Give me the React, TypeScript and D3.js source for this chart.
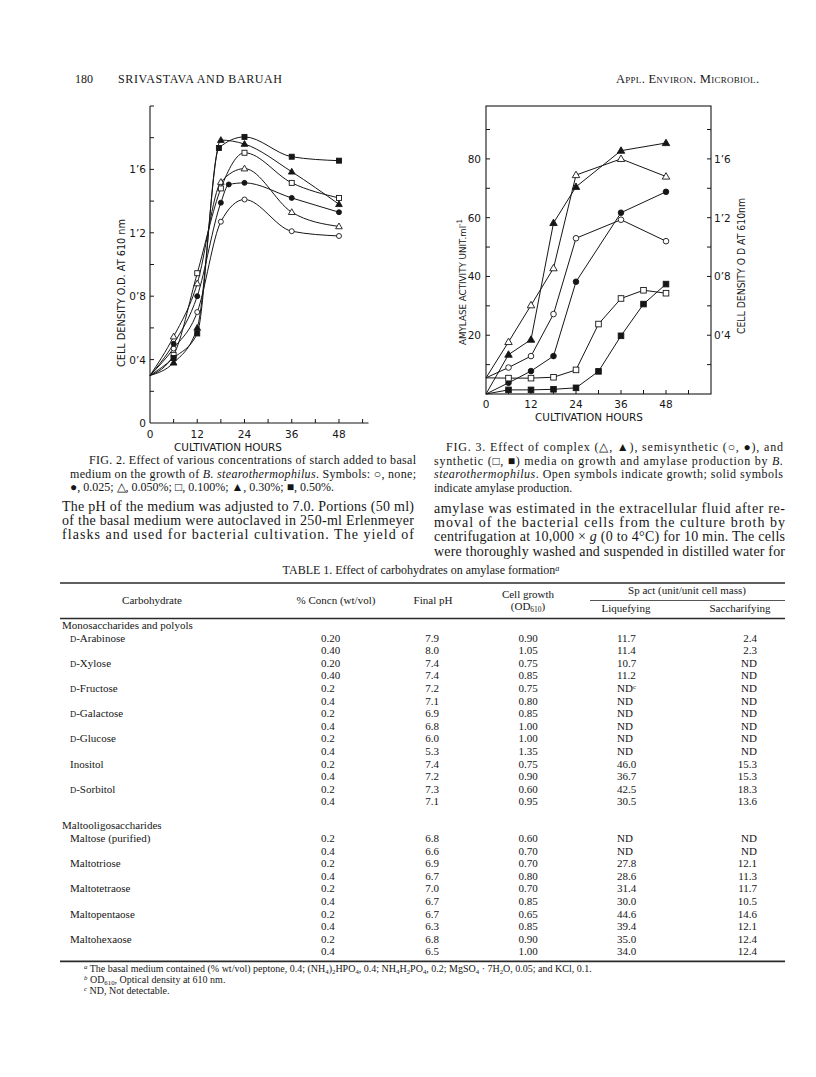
import React from "react";
import * as d3 from "d3";

const INK = "#161616";
const SERIF = "'Liberation Serif', 'Times New Roman', serif";
const LETTER = "'DejaVu Sans', 'Liberation Sans', sans-serif";

// Fig. 2 - cell density (OD 610) vs cultivation hours, by starch added
const f2Hours = [0, 6, 12, 18, 24, 36, 48];
const f2None = [0.3, 0.47, 0.7, 1.27, 1.41, 1.21, 1.18];
const f2S025Hours = [0, 6, 12, 18, 20, 24, 36, 48];
const f2S025 = [0.3, 0.5, 0.8, 1.39, 1.505, 1.515, 1.42, 1.33];
const f2S050 = [0.3, 0.545, 0.88, 1.52, 1.605, 1.33, 1.24];
const f2S100 = [0.3, 0.43, 0.945, 1.48, 1.705, 1.515, 1.42];
const f2S30 = [0.3, 0.38, 0.6, 1.785, 1.76, 1.585, 1.38];
const f2S50Hours = [0, 6, 12, 17.5, 24, 36, 48];
const f2S50 = [0.3, 0.41, 0.565, 1.735, 1.805, 1.68, 1.655];
const f2XTicks = [0, 12, 24, 36, 48];
const f2YTicks = [0, 0.4, 0.8, 1.2, 1.6];
const f2YLabels = ["0", "0\u20194", "0\u20198", "1\u20192", "1\u20196"];

// Fig. 3 - amylase activity (U/ml) and growth (same grid, OD = units/50)
const f3Hours = [0, 6, 12, 18, 24, 36, 48];
const f3ComplexGrowth = [5.5, 17.7, 30.2, 42.8, 74.5, 80, 74];
const f3ComplexAmylase = [0, 13.4, 18.5, 58.2, 70.5, 82.8, 85.4];
const f3SemiGrowth = [5.5, 9, 12.9, 27.2, 53, 59.3, 52];
const f3SemiAmylase = [0, 3.8, 7.8, 12.9, 38.2, 61.7, 68.8];
const f3SynHours = [0, 6, 12, 18, 24, 30, 36, 42, 48];
const f3SynGrowth = [5.5, 5.4, 5.4, 5.7, 8.2, 23.8, 32.5, 35.3, 34.3];
const f3SynAmylase = [0, 1.4, 1.4, 1.6, 2.1, 7.7, 19.8, 30.6, 37.4];
const f3XTicks = [0, 12, 24, 36, 48];
const f3LeftTicks = [20, 40, 60, 80];
const f3RightTicks = [0.4, 0.8, 1.2, 1.6];
const f3RightLabels = ["0\u20194", "0\u20198", "1\u20192", "1\u20196"];

// Table 1
const monoNames = ["Arabinose", "Xylose", "Fructose", "Galactose", "Glucose", "Inositol", "Sorbitol"];
const monoD = [true, true, true, true, true, false, true];
const maltoNames = ["Maltose (purified)", "Maltotriose", "Maltotetraose", "Maltopentaose", "Maltohexaose"];
const monoConc = ["0.20", "0.40", "0.20", "0.40", "0.2", "0.4", "0.2", "0.4", "0.2", "0.4", "0.2", "0.4", "0.2", "0.4"];
const monoPH = ["7.9", "8.0", "7.4", "7.4", "7.2", "7.1", "6.9", "6.8", "6.0", "5.3", "7.4", "7.2", "7.3", "7.1"];
const monoGrowth = ["0.90", "1.05", "0.75", "0.85", "0.75", "0.80", "0.85", "1.00", "1.00", "1.35", "0.75", "0.90", "0.60", "0.95"];
const monoLiq = ["11.7", "11.4", "10.7", "11.2", "ND", "ND", "ND", "ND", "ND", "ND", "46.0", "36.7", "42.5", "30.5"];
const monoSacch = ["2.4", "2.3", "ND", "ND", "ND", "ND", "ND", "ND", "ND", "ND", "15.3", "15.3", "18.3", "13.6"];
const maltoConc = ["0.2", "0.4", "0.2", "0.4", "0.2", "0.4", "0.2", "0.4", "0.2", "0.4"];
const maltoPH = ["6.8", "6.6", "6.9", "6.7", "7.0", "6.7", "6.7", "6.3", "6.8", "6.5"];
const maltoGrowth = ["0.60", "0.70", "0.70", "0.80", "0.70", "0.85", "0.65", "0.85", "0.90", "1.00"];
const maltoLiq = ["ND", "ND", "27.8", "28.6", "31.4", "30.0", "44.6", "39.4", "35.0", "34.0"];
const maltoSacch = ["ND", "ND", "12.1", "11.3", "11.7", "10.5", "14.6", "12.1", "12.4", "12.4"];

type Seg = string | { t: string; it?: boolean; sub?: boolean; sup?: boolean; sc?: boolean };

const Rich = ({ x, y, segs, size, width, anchor = "start", family = SERIF }: any) => (
  <text
    x={x}
    y={y}
    fontFamily={family}
    fontSize={size}
    fill={INK}
    textAnchor={anchor}
    textLength={width}
    lengthAdjust={width ? "spacing" : undefined}
  >
    {segs.map((s: Seg, i: number) =>
      typeof s === "string" ? (
        <tspan key={i}>{s}</tspan>
      ) : (
        <tspan
          key={i}
          fontStyle={s.it ? "italic" : undefined}
          fontSize={s.sub || s.sup ? size * 0.68 : s.sc ? size * 0.78 : undefined}
          baselineShift={s.sub ? "-22%" : s.sup ? "40%" : undefined}
        >
          {s.t}
        </tspan>
      )
    )}
  </text>
);

const Marker = ({ shape, filled, cx, cy, r }: any) => {
  const fill = filled ? INK : "#fff";
  if (shape === "circle") return <circle cx={cx} cy={cy} r={r} fill={fill} stroke={INK} strokeWidth={0.9} />;
  if (shape === "square")
    return <rect x={cx - r} y={cy - r} width={r * 2} height={r * 2} fill={fill} stroke={INK} strokeWidth={0.9} />;
  const h = r * 2.3;
  const p = `M${cx},${cy - h * 0.6}L${cx + h * 0.58},${cy + h * 0.4}L${cx - h * 0.58},${cy + h * 0.4}Z`;
  return <path d={p} fill={fill} stroke={INK} strokeWidth={0.9} />;
};

const Fig2 = () => {
  const x = d3.scaleLinear().domain([0, 55.5]).range([150, 368.5]);
  const y = d3.scaleLinear().domain([0, 2.0]).range([423, 106]);
  const series = [
    { h: f2Hours, v: f2None, shape: "circle", filled: false },
    { h: f2S025Hours, v: f2S025, shape: "circle", filled: true },
    { h: f2Hours, v: f2S050, shape: "triangle", filled: false },
    { h: f2Hours, v: f2S100, shape: "square", filled: false },
    { h: f2Hours, v: f2S30, shape: "triangle", filled: true },
    { h: f2S50Hours, v: f2S50, shape: "square", filled: true },
  ];
  const line = d3
    .line<number[]>()
    .x((d) => x(d[0]))
    .y((d) => y(d[1]))
    .curve(d3.curveMonotoneX);
  return (
    <g>
      <line x1={x(0)} x2={x(0)} y1={y(0)} y2={y(2.0)} stroke={INK} strokeWidth={1.1} />
      <line x1={x(0)} x2={x(55.5)} y1={y(0)} y2={y(0)} stroke={INK} strokeWidth={1.1} />
      {d3.range(6, 55, 6).map((t) => (
        <line key={t} x1={x(t)} x2={x(t)} y1={y(0)} y2={y(0) - 4} stroke={INK} strokeWidth={1} />
      ))}
      {d3.range(1, 11).map((i) => (
        <line key={i} x1={x(0)} x2={x(0) + 4} y1={y(i * 0.2)} y2={y(i * 0.2)} stroke={INK} strokeWidth={1} />
      ))}
      {f2XTicks.map((t) => (
        <text key={t} x={x(t)} y={438} textAnchor="middle" fontFamily={LETTER} fontSize={10.5} fill={INK}>
          {t}
        </text>
      ))}
      {f2YTicks.map((t, i) => (
        <text key={t} x={146} y={y(t) + 4} textAnchor="end" fontFamily={LETTER} fontSize={10.5} fill={INK}>
          {f2YLabels[i]}
        </text>
      ))}
      <text x={228} y={451} textAnchor="middle" fontFamily={LETTER} fontSize={10} fill={INK} textLength={108} lengthAdjust="spacingAndGlyphs">
        CULTIVATION HOURS
      </text>
      <text
        transform="translate(125,293) rotate(-90)"
        textAnchor="middle"
        fontFamily={LETTER}
        fontSize={10}
        fill={INK}
        textLength={148}
        lengthAdjust="spacingAndGlyphs"
      >
        CELL DENSITY  O.D. AT 610 nm
      </text>
      {series.map((s, k) => {
        const pts = s.h.map((h, i) => [h, s.v[i]]);
        return (
          <g key={k}>
            <path d={line(pts) || ""} fill="none" stroke={INK} strokeWidth={1} />
            {pts.slice(1).map((p, i) => (
              <Marker key={i} shape={s.shape} filled={s.filled} cx={x(p[0])} cy={y(p[1])} r={2.5} />
            ))}
          </g>
        );
      })}
    </g>
  );
};

const Fig3 = () => {
  const x = d3.scaleLinear().domain([0, 60]).range([486, 711]);
  const y = d3.scaleLinear().domain([0, 98]).range([394, 106]);
  const yr = d3.scaleLinear().domain([0, 1.96]).range([394, 106]);
  const series = [
    { h: f3Hours, v: f3ComplexGrowth, shape: "triangle", filled: false },
    { h: f3Hours, v: f3ComplexAmylase, shape: "triangle", filled: true },
    { h: f3Hours, v: f3SemiGrowth, shape: "circle", filled: false },
    { h: f3Hours, v: f3SemiAmylase, shape: "circle", filled: true },
    { h: f3SynHours, v: f3SynGrowth, shape: "square", filled: false },
    { h: f3SynHours, v: f3SynAmylase, shape: "square", filled: true },
  ];
  const line = d3
    .line<number[]>()
    .x((d) => x(d[0]))
    .y((d) => y(d[1]));
  return (
    <g>
      <rect x={x(0)} y={y(98)} width={x(60) - x(0)} height={y(0) - y(98)} fill="none" stroke={INK} strokeWidth={1.1} />
      {d3.range(6, 59, 6).map((t) => (
        <line key={t} x1={x(t)} x2={x(t)} y1={y(0)} y2={y(0) - 4} stroke={INK} strokeWidth={1} />
      ))}
      {d3.range(10, 91, 10).map((t) => (
        <line key={t} x1={x(0)} x2={x(0) + 4} y1={y(t)} y2={y(t)} stroke={INK} strokeWidth={1} />
      ))}
      {d3.range(1, 10).map((i) => (
        <line key={i} x1={x(60)} x2={x(60) - 4} y1={yr(i * 0.2)} y2={yr(i * 0.2)} stroke={INK} strokeWidth={1} />
      ))}
      {f3XTicks.map((t) => (
        <text key={t} x={x(t)} y={408} textAnchor="middle" fontFamily={LETTER} fontSize={10.5} fill={INK}>
          {t}
        </text>
      ))}
      {f3LeftTicks.map((t) => (
        <text key={t} x={481} y={y(t) + 4} textAnchor="end" fontFamily={LETTER} fontSize={10.5} fill={INK}>
          {t}
        </text>
      ))}
      {f3RightTicks.map((t, i) => (
        <text key={t} x={714} y={yr(t) + 4} fontFamily={LETTER} fontSize={10.5} fill={INK}>
          {f3RightLabels[i]}
        </text>
      ))}
      <text x={589} y={421} textAnchor="middle" fontFamily={LETTER} fontSize={10} fill={INK} textLength={108} lengthAdjust="spacingAndGlyphs">
        CULTIVATION HOURS
      </text>
      <text
        transform="translate(465.5,282) rotate(-90)"
        textAnchor="middle"
        fontFamily={LETTER}
        fontSize={9.5}
        fill={INK}
        textLength={126}
        lengthAdjust="spacingAndGlyphs"
      >
        <tspan>AMYLASE ACTIVITY UNIT.ml</tspan>
        <tspan fontSize={7.5} baselineShift="45%">-1</tspan>
      </text>
      <text
        transform="translate(745,266) rotate(-90)"
        textAnchor="middle"
        fontFamily={LETTER}
        fontSize={10}
        fill={INK}
        textLength={136}
        lengthAdjust="spacingAndGlyphs"
      >
        CELL DENSITY O D AT 610nm
      </text>
      {series.map((s, k) => {
        const pts = s.h.map((h, i) => [h, s.v[i]]);
        return (
          <g key={k}>
            <path d={line(pts) || ""} fill="none" stroke={INK} strokeWidth={1} />
            {pts.slice(1).map((p, i) => (
              <Marker key={i} shape={s.shape} filled={s.filled} cx={x(p[0])} cy={y(p[1])} r={2.8} />
            ))}
          </g>
        );
      })}
    </g>
  );
};

const fig2Caption: Seg[][] = [
  ["FIG. 2. Effect of various concentrations of starch added to basal"],
  ["medium on the growth of ", { t: "B. stearothermophilus", it: true }, ". Symbols: \u25CB, none;"],
  ["\u25CF, 0.025; \u25B3, 0.050%; \u25A1, 0.100%; \u25B2, 0.30%; \u25A0, 0.50%."],
];
const fig3Caption: Seg[][] = [
  ["FIG. 3. Effect of complex (\u25B3, \u25B2), semisynthetic (\u25CB, \u25CF), and"],
  ["synthetic (\u25A1, \u25A0) media on growth and amylase production by ", { t: "B.", it: true }],
  [{ t: "stearothermophilus", it: true }, ". Open symbols indicate growth; solid symbols"],
  ["indicate amylase production."],
];
const leftBody: Seg[][] = [
  ["The pH of the medium was adjusted to 7.0. Portions (50 ml)"],
  ["of the basal medium were autoclaved in 250-ml Erlenmeyer"],
  ["flasks and used for bacterial cultivation. The yield of"],
];
const rightBody: Seg[][] = [
  ["amylase was estimated in the extracellular fluid after re-"],
  ["moval of the bacterial cells from the culture broth by"],
  ["centrifugation at 10,000 \u00D7 ", { t: "g", it: true }, " (0 to 4\u00B0C) for 10 min. The cells"],
  ["were thoroughly washed and suspended in distilled water for"],
];

const Table1 = () => {
  const rowH = 12.6;
  const monoTop = 629;
  const monoRows = monoConc.map((_, i) => monoTop + rowH * (i + 1));
  const maltoHead = monoRows[monoRows.length - 1] + rowH * 1.9;
  const maltoRows = maltoConc.map((_, i) => maltoHead + rowH * (i + 1));
  const fs = 11;
  const cols = (ys: number[], conc: string[], ph: string[], gr: string[], liq: string[], sac: string[], mono: boolean) =>
    ys.map((yy, i) => (
      <g key={i} fontFamily={SERIF} fontSize={fs} fill={INK}>
        <text x={321} y={yy}>{conc[i]}</text>
        <text x={432} y={yy} textAnchor="middle">{ph[i]}</text>
        <text x={528} y={yy} textAnchor="middle">{gr[i]}</text>
        <text x={617} y={yy}>
          {liq[i]}
          {mono && i === 4 ? (
            <tspan fontSize={7} baselineShift="40%">c</tspan>
          ) : null}
        </text>
        <text x={757} y={yy} textAnchor="end">{sac[i]}</text>
      </g>
    ));
  const rule = (yy: number, w = 1.6, x1 = 60, x2 = 785) => (
    <line x1={x1} x2={x2} y1={yy} y2={yy} stroke="#2a2a2a" strokeWidth={w} />
  );
  return (
    <g>
      <Rich
        x={421}
        y={574}
        anchor="middle"
        size={12}
        segs={["TABLE 1. Effect of carbohydrates on amylase formation", { t: "a", sup: true, it: true }]}
      />
      {rule(583)}
      <g fontFamily={SERIF} fontSize={fs} fill={INK}>
        <text x={152} y={604} textAnchor="middle">Carbohydrate</text>
        <text x={336} y={604} textAnchor="middle">% Concn (wt/vol)</text>
        <text x={433} y={604} textAnchor="middle">Final pH</text>
        <text x={528} y={598} textAnchor="middle">Cell growth</text>
        <Rich x={528} y={610} anchor="middle" size={fs} segs={["(OD", { t: "610", sub: true }, ")"]} />
        <text x={687} y={594} textAnchor="middle">Sp act (unit/unit cell mass)</text>
        <text x={626} y={612} textAnchor="middle">Liquefying</text>
        <text x={740} y={612} textAnchor="middle">Saccharifying</text>
      </g>
      {rule(600.5, 0.8, 590, 785)}
      {rule(618.5)}
      <text x={62} y={monoTop} fontFamily={SERIF} fontSize={fs} fill={INK}>
        Monosaccharides and polyols
      </text>
      {monoNames.map((n, k) => (
        <Rich key={n} x={70} y={monoRows[k * 2]} size={fs} segs={monoD[k] ? [{ t: "D", sc: true }, "-" + n] : [n]} />
      ))}
      {cols(monoRows, monoConc, monoPH, monoGrowth, monoLiq, monoSacch, true)}
      <text x={62} y={maltoHead} fontFamily={SERIF} fontSize={fs} fill={INK}>
        Maltooligosaccharides
      </text>
      {maltoNames.map((n, k) => (
        <text key={n} x={70} y={maltoRows[k * 2]} fontFamily={SERIF} fontSize={fs} fill={INK}>
          {n}
        </text>
      ))}
      {cols(maltoRows, maltoConc, maltoPH, maltoGrowth, maltoLiq, maltoSacch, false)}
      {rule(maltoRows[maltoRows.length - 1] + 6)}
      <Rich
        x={84}
        y={972}
        size={10}
        segs={[
          { t: "a", sup: true, it: true },
          " The basal medium contained (% wt/vol) peptone, 0.4; (NH",
          { t: "4", sub: true },
          ")",
          { t: "2", sub: true },
          "HPO",
          { t: "4", sub: true },
          ", 0.4; NH",
          { t: "4", sub: true },
          "H",
          { t: "2", sub: true },
          "PO",
          { t: "4", sub: true },
          ", 0.2; MgSO",
          { t: "4", sub: true },
          " \u00B7 7H",
          { t: "2", sub: true },
          "O, 0.05; and KCl, 0.1.",
        ]}
      />
      <Rich x={84} y={983} size={10} segs={[{ t: "b", sup: true, it: true }, " OD", { t: "610", sub: true }, ", Optical density at 610 nm."]} />
      <Rich x={84} y={994} size={10} segs={[{ t: "c", sup: true, it: true }, " ND, Not detectable."]} />
    </g>
  );
};

const Block = ({ lines, x, firstX, right, y0, lh, size, justifyLast }: any) => (
  <g>
    {lines.map((segs: Seg[], i: number) => {
      const xx = i === 0 ? firstX : x;
      const last = i === lines.length - 1;
      return (
        <Rich
          key={i}
          x={xx}
          y={y0 + i * lh}
          size={size}
          segs={segs}
          width={!last || justifyLast ? right - xx : undefined}
        />
      );
    })}
  </g>
);

export default function App() {
  return (
    <div style={{ position: "absolute", left: 0, top: 0 }}>
      <svg width={816} height={1077} viewBox="0 0 816 1077" style={{ display: "block", background: "#fff" }}>
        <rect width={816} height={1077} fill="#fff" />
        <text x={75} y={83} fontFamily={SERIF} fontSize={12} fill={INK}>180</text>
        <text x={118} y={83} fontFamily={SERIF} fontSize={12} fill={INK} textLength={164} lengthAdjust="spacing">
          SRIVASTAVA AND BARUAH
        </text>
        <text x={616} y={83} fontFamily={SERIF} fontSize={12.5} fill={INK} textLength={143} lengthAdjust="spacing" style={{ fontVariant: "small-caps" }}>
          Appl. Environ. Microbiol.
        </text>
        <Fig2 />
        <Fig3 />
        <Block lines={fig2Caption} x={70} firstX={89} right={416} y0={464} lh={13.6} size={12} />
        <Block lines={fig3Caption} x={434} firstX={446} right={783} y0={451} lh={13.6} size={12} />
        <Block lines={leftBody} x={62} firstX={62} right={414} y0={511} lh={14.2} size={14} justifyLast />
        <Block lines={rightBody} x={434} firstX={434} right={785} y0={513} lh={14.2} size={14} justifyLast />
        <Table1 />
      </svg>
    </div>
  );
}
